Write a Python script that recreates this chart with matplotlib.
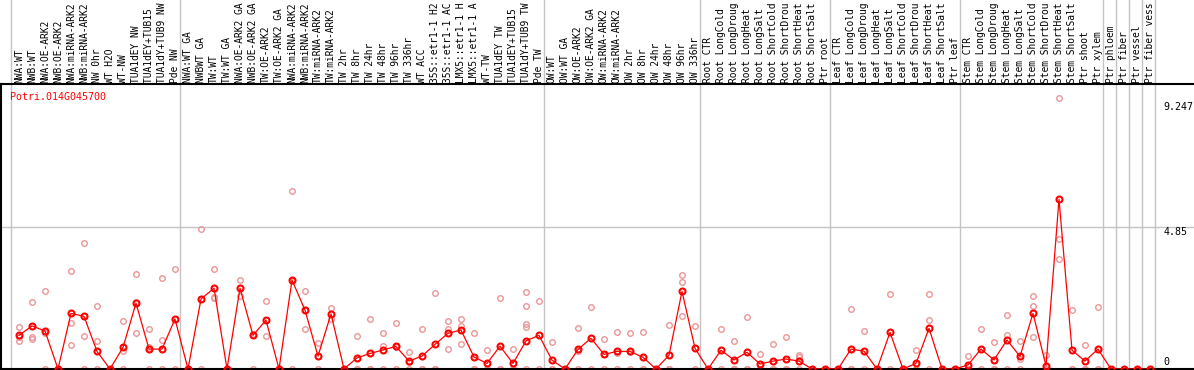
import matplotlib
matplotlib.use("Agg")
import matplotlib.pyplot as plt
from matplotlib import transforms

# ---------- data ----------

gene = "Potri.014G045700"

labels = [
    "NWA:WT", "NWB:WT", "NWA:OE-ARK2", "NWB:OE-ARK2", "NWA:miRNA-ARK2",
    "NWB:miRNA-ARK2", "NW 0hr", "WT H2O", "WT-NW", "TUA1dEY NW",
    "TUA1dEY+TUB15 NW", "TUA1dY+TUB9 NW", "Pde NW",
    "NWA:WT GA", "NWBWT GA", "TW:WT", "TW:WT GA", "NWA:OE-ARK2 GA",
    "NWB:OE-ARK2 GA", "TW:OE-ARK2", "TW:OE-ARK2 GA", "NWA:miRNA-ARK2 GA",
    "NWB:miRNA-ARK2 GA", "TW:miRNA-ARK2", "TW:miRNA-ARK2", "TW 2hr", "TW 8hr",
    "TW 24hr", "TW 48hr", "TW 96hr", "TW 336hr", "WT ACC", "35S::etr1-1 H2O",
    "35S::etr1-1 ACC", "LMX5::etr1-1 H2O", "LMX5::etr1-1 ACC", "WT-TW",
    "TUA1dEY TW", "TUA1dEY+TUB15 TW", "TUA1dY+TUB9 TW", "Pde TW",
    "OW:WT", "OW:WT GA", "OW:OE-ARK2", "OW:OE-ARK2 GA", "OW:miRNA-ARK2",
    "OW:miRNA-ARK2", "OW 2hr", "OW 8hr", "OW 24hr", "OW 48hr", "OW 96hr",
    "OW 336hr",
    "Root CTR", "Root LongCold", "Root LongDrought", "Root LongHeat",
    "Root LongSalt", "Root ShortCold", "Root ShortDrought", "Root ShortHeat",
    "Root ShortSalt", "Ptr root",
    "Leaf CTR", "Leaf LongCold", "Leaf LongDrought", "Leaf LongHeat",
    "Leaf LongSalt", "Leaf ShortCold", "Leaf ShortDrought", "Leaf ShortHeat",
    "Leaf ShortSalt", "Ptr leaf",
    "Stem CTR", "Stem LongCold", "Stem LongDrought", "Stem LongHeat",
    "Stem LongSalt", "Stem ShortCold", "Stem ShortDrought", "Stem ShortHeat",
    "Stem ShortSalt", "Ptr shoot", "Ptr xylem",
    "Ptr phloem", "Ptr fiber", "Ptr vessel", "Ptr fiber vessel",
]
label_chars = 14   # the chart cuts every sample name to 14 characters

# sample means (dark red, connected)
means = [
    1.15, 1.47, 1.30, 0, 1.90, 1.80, 0.60, 0, 0.74, 2.25, 0.68, 0.68, 1.71,
    0, 2.39, 2.76, 0, 2.76, 1.15, 1.67, 0, 3.04, 2.01, 0.44, 1.88, 0, 0.38,
    0.53, 0.65, 0.77, 0.27, 0.44, 0.84, 1.22, 1.33, 0.41, 0.19, 0.78, 0.19,
    0.96, 1.15,
    0.30, 0, 0.67, 1.05, 0.50, 0.60, 0.60, 0.40, 0, 0.47, 2.65, 0.71,
    0, 0.64, 0.31, 0.57, 0.17, 0.27, 0.34, 0.27, 0, 0,
    0, 0.68, 0.61, 0, 1.25, 0, 0.19, 1.39, 0, 0,
    0.14, 0.68, 0.31, 0.99, 0.43, 1.90, 0.11, 5.80, 0.64, 0.27, 0.68,
    0, 0, 0, 0,
]

# individual replicates (light red)
reps = [
    [1.42, 1.08, 0.95], [2.29, 1.10, 1.02], [2.66, 1.24, 0], [0, 0],
    [3.34, 1.58, 0.81], [4.32, 1.12, 0], [2.14, 0.95, 0], [0, 0],
    [1.63, 0.63, 0], [3.23, 2.30, 1.22], [1.35, 0.76, 0], [3.10, 0.99, 0],
    [3.40, 0],
    [0, 0], [4.78, 0], [3.40, 2.47, 2.41], [0, 0], [3.03, 2.49], [1.2, 0],
    [2.32, 1.12], [0, 0], [6.07, 3.0, 0], [2.66, 2.0, 1.37], [0.90, 0],
    [2.08, 1.71], [0, 0], [1.12, 0, 0], [1.71, 0, 0], [1.22, 0.78, 0],
    [1.56, 0.75, 0], [0.57, 0.24, 0], [1.35, 0, 0], [2.59, 0, 0],
    [1.64, 1.35, 0.68], [1.71, 1.47, 0.85], [1.22, 0, 0], [0.65, 0, 0],
    [2.41, 0, 0], [0.67, 0, 0], [2.62, 2.15, 1.54, 1.45, 0], [2.32, 0],
    [0.91, 0, 0], [0, 0], [1.39, 0.62, 0], [2.11, 0], [1.02, 0.5, 0],
    [1.26, 0.55, 0], [1.22, 0.58, 0], [1.26, 0, 0], [0, 0], [1.49, 0, 0],
    [3.20, 2.96, 1.80], [1.46, 0],
    [0, 0], [1.35, 0], [0.96, 0, 0], [1.76, 0, 0], [0.50, 0, 0],
    [0.84, 0, 0], [1.09, 0, 0], [0.47, 0.42, 0], [0, 0], [0, 0],
    [0, 0], [2.05, 0, 0], [1.30, 0], [0, 0], [2.56, 0], [0, 0],
    [0.65, 0, 0], [2.55, 1.67, 0], [0, 0], [0, 0],
    [0.44, 0, 0], [1.37, 0], [0.91, 0, 0], [1.83, 1.16, 0], [0.96, 0.33, 0],
    [2.48, 2.15, 1.08], [0.47, 0, 0], [9.247, 4.43, 3.75], [2.01, 0, 0],
    [0.81, 0, 0], [2.11, 0, 0],
    [0], [0], [0], [0],
]

# index of the first sample of every group, tissue separators go before them
group_starts = [0, 13, 41, 53, 63, 73, 84, 85, 86, 87, 88]

tick_values = [9.247, 4.85, 0]
tick_labels = ["9.247", "4.85", "0"]

# ---------- plotting ----------

W, H = 1194, 370
fig = plt.figure(figsize=(W / 100, H / 100), dpi=100)
ax = fig.add_axes([1 / W, 1 / H, (W - 1) / W, 285 / H])

pitch = 13.0                      # pixels per sample column
ax.set_xlim(-18 / pitch, (W - 19) / pitch)
ymax = max(tick_values) * 285 / 270.7
ax.set_ylim(0, ymax)

for side in ["left", "top", "bottom"]:
    ax.spines[side].set_color("black")
    ax.spines[side].set_linewidth(1.5)
ax.spines["right"].set_visible(False)
ax.set_xticks([])
ax.set_yticks([])

grey = "#c4c4c4"
ax.axhline(4.85, color=grey, lw=1, zorder=0)
for g in group_starts:
    ax.axvline(g - 0.6, ymin=0, ymax=369 / 285, color=grey, lw=1,
               clip_on=False, zorder=0)

mono = "DejaVu Sans Mono"
lab_trans = transforms.offset_copy(
    transforms.blended_transform_factory(ax.transData, ax.transAxes),
    fig=fig, y=1, units="dots")
for i, lab in enumerate(labels):
    ax.text(i, 1, lab[:label_chars], transform=lab_trans, rotation=90,
            ha="center", va="bottom", fontsize=6.9, family=mono,
            color="black")

xs = list(range(len(means)))
rx, ry = [], []
for i, r in enumerate(reps):
    rx += [i] * len(r)
    ry += r

ax.plot(rx, ry, ls="none", marker="o", ms=4.0, mew=1.0, mfc="none",
        mec="#eb9696", zorder=2)
ax.plot(xs, means, color="red", lw=0.9, zorder=3)
ax.plot(xs, means, ls="none", marker="o", ms=4.3, mew=1.5, mfc="none",
        mec="red", zorder=4)

ax.annotate(gene, xy=(0, 1), xycoords="axes fraction", xytext=(9, -13),
            textcoords="offset pixels", va="center", ha="left",
            fontsize=7.2, family=mono, color="red")

tick_dy = [-9, -5, 7]
for v, t, dy in zip(tick_values, tick_labels, tick_dy):
    ax.annotate(t, xy=(len(means) - 0.5, v), xytext=(7, dy),
                textcoords="offset pixels", va="center", ha="left",
                fontsize=7.2, family=mono, color="black")

fig.savefig("out.png", dpi=100)
